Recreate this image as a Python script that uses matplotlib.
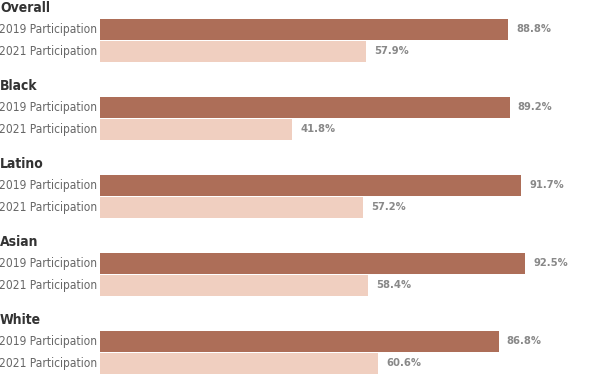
import matplotlib
matplotlib.use('Agg')
from matplotlib import pyplot as plt
from matplotlib import transforms

groups = ['Overall', 'Black', 'Latino', 'Asian', 'White']
series = ['2019 Participation', '2021 Participation']
p2019 = [88.8, 89.2, 91.7, 92.5, 86.8]
p2021 = [57.9, 41.8, 57.2, 58.4, 60.6]

colors = ['#ad6e58', '#f0cfc0']
plt.rcParams['font.family'] = ['DejaVu Sans']
plt.rcParams['font.stretch'] = 'condensed'

fig = plt.figure(figsize=(6, 3.8), dpi=100)
ax = fig.add_axes([100 / 600, 0, 500 / 600, 1])
ax.set_xlim(0, 500 / 4.595)
ax.set_ylim(380, 0)
ax.set_axis_off()

lab_off = transforms.offset_copy(ax.transData, fig=fig, x=-3, y=0, units='dots')
val_off = transforms.offset_copy(ax.transData, fig=fig, x=8, y=0, units='dots')

for i, g in enumerate(groups):
    top = 78 * i
    fig.text(0.0, 1 - (top + 8) / 380, g, fontsize=10, fontweight='bold',
             color='#333333', va='center', ha='left')
    for j, vals in enumerate([p2019, p2021]):
        yc = top + 29 + 22 * j
        ax.barh(yc, vals[i], height=21, color=colors[j], left=0)
        ax.text(0, yc, series[j], transform=lab_off, ha='right', va='center',
                fontsize=8.6, color='#666666')
        ax.text(vals[i], yc, f'{vals[i]:.1f}%', transform=val_off, ha='left',
                va='center', fontsize=8, fontweight='bold', color='#888888')

fig.savefig('out.png', dpi=100)
